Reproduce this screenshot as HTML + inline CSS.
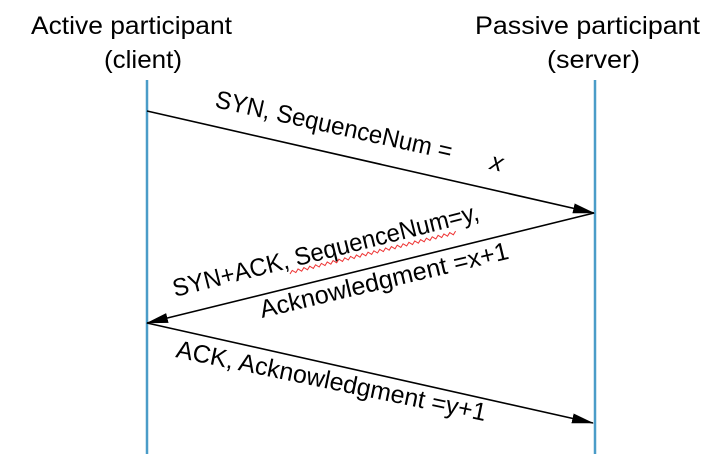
<!DOCTYPE html>
<html><head><style>html,body{margin:0;padding:0;background:#fff}svg{display:block}</style></head>
<body>
<svg width="716" height="466" viewBox="0 0 716 466" xmlns="http://www.w3.org/2000/svg" font-family="Liberation Sans, sans-serif" font-size="25" fill="#000">
<defs><marker id="a" markerWidth="22" markerHeight="10" refX="21" refY="5" orient="auto" markerUnits="userSpaceOnUse"><path d="M0,0 L22,5 L0,10 Z" fill="#000"/></marker></defs>
<line x1="147" y1="80" x2="147" y2="454" stroke="#4a9cc8" stroke-width="2.5"/>
<line x1="595" y1="80" x2="595" y2="454" stroke="#4a9cc8" stroke-width="2.5"/>
<text x="31" y="34" textLength="201" lengthAdjust="spacingAndGlyphs">Active participant</text>
<text x="104" y="68" textLength="78" lengthAdjust="spacingAndGlyphs">(client)</text>
<text x="475" y="34" textLength="225" lengthAdjust="spacingAndGlyphs">Passive participant</text>
<text x="547" y="68" textLength="93" lengthAdjust="spacingAndGlyphs">(server)</text>
<line x1="147" y1="111" x2="594" y2="213" stroke="#000" stroke-width="1.6" marker-end="url(#a)"/>
<line x1="594" y1="213" x2="147" y2="323" stroke="#000" stroke-width="1.6" marker-end="url(#a)"/>
<line x1="147" y1="323" x2="593" y2="423" stroke="#000" stroke-width="1.6" marker-end="url(#a)"/>
<text transform="translate(214,107) rotate(12.6)" textLength="242" lengthAdjust="spacingAndGlyphs">SYN, SequenceNum =</text>
<text transform="translate(489,169) rotate(12.6)" font-style="italic">x</text>
<text transform="translate(175,297) rotate(-14.2)" textLength="315" lengthAdjust="spacingAndGlyphs">SYN+ACK, SequenceNum=y,</text>
<path d="M290,274 l3,-3 l3,3 l3,-3 l3,3 l3,-3 l3,3 l3,-3 l3,3 l3,-3 l3,3 l3,-3 l3,3 l3,-3 l3,3 l3,-3 l3,3 l3,-3 l3,3 l3,-3 l3,3 l3,-3 l3,3 l3,-3 l3,3 l3,-3 l3,3 l3,-3 l3,3 l3,-3 l3,3 l3,-3 l3,3 l3,-3 l3,3 l3,-3 l3,3 l3,-3 l3,3 l3,-3 l3,3 l3,-3 l3,3 l3,-3 l3,3 l3,-3 l3,3 l3,-3 l3,3 l3,-3 l3,3 l3,-3 l3,3 l3,-3 l3,3 l3,-3 l3,3 l3,-3" transform="rotate(-13.5 290 274)" fill="none" stroke="#e33" stroke-width="1"/>
<text transform="translate(262,318) rotate(-13.5)" textLength="255" lengthAdjust="spacingAndGlyphs">Acknowledgment =x+1</text>
<text transform="translate(175,357) rotate(11.7)" textLength="316" lengthAdjust="spacingAndGlyphs">ACK, Acknowledgment =y+1</text>
</svg>
</body></html>
